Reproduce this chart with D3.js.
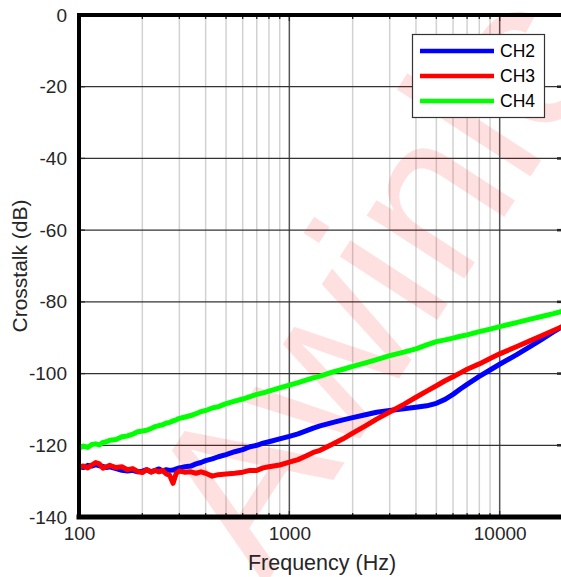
<!DOCTYPE html>
<html>
<head>
<meta charset="utf-8">
<style>
  body { margin: 0; background: #fff; }
  svg { display: block; font-family: "Liberation Sans", Arial, sans-serif; }
</style>
</head>
<body>
<svg width="561" height="577"></svg>
<script src="https://unpkg.com/d3@7/dist/d3.min.js"></script>
<script>
// data
const freqs = [100,105,110,115,120,125,130,135,140,150,160,170,180,190,200,210,220,230,240,250,
  260,270,280,290,300,320,340,360,380,400,430,460,500,550,600,650,700,750,800,900,
  1000,1100,1200,1300,1400,1600,1800,2000,2300,2600,3000,3500,4000,4500,5000,5500,6000,6500,7000,8000,
  9000,10000,12000,14000,16000,18000,20000];

const ch2 = [-126.0,-126.2,-125.6,-125.8,-125.4,-125.7,-125.9,-126.2,-126.0,-126.5,-127.0,-127.2,-127.0,-127.4,-127.2,-126.8,-127.4,-127.0,-126.6,-127.2,
  -126.8,-127.0,-126.9,-126.6,-126.3,-126.0,-125.8,-125.2,-124.8,-124.3,-123.8,-123.2,-122.6,-121.8,-121.2,-120.4,-120.0,-119.4,-119.0,-118.2,
  -117.5,-116.8,-116.0,-115.2,-114.6,-113.7,-112.9,-112.3,-111.5,-110.8,-110.3,-109.8,-109.4,-109.0,-108.3,-107.2,-105.8,-104.3,-103.0,-100.8,
  -99.0,-97.4,-94.8,-92.4,-90.3,-88.4,-86.8];

const ch3 = [-126.0,-125.8,-126.3,-125.5,-124.8,-125.2,-126.4,-126.0,-125.6,-126.2,-126.0,-126.8,-126.5,-127.3,-127.6,-126.8,-127.5,-127.0,-127.4,-127.0,
  -128.0,-128.4,-130.6,-127.8,-127.2,-127.5,-127.4,-127.8,-127.4,-127.8,-128.6,-128.2,-128.0,-127.8,-127.5,-127.0,-127.0,-126.3,-126.0,-125.5,
  -124.7,-124.0,-123.0,-122.0,-121.4,-119.7,-118.2,-116.6,-114.6,-112.7,-110.7,-108.6,-106.6,-104.9,-103.4,-102.0,-100.9,-99.8,-98.8,-97.3,
  -95.8,-94.5,-92.5,-90.8,-89.3,-88.0,-86.8];

const ch4 = [-120.8,-120.2,-120.6,-119.8,-119.6,-119.9,-119.2,-119.0,-118.6,-118.4,-117.6,-117.4,-116.9,-116.2,-116.0,-115.8,-115.3,-114.8,-114.5,-114.3,
  -113.8,-113.6,-113.2,-112.9,-112.5,-112.1,-111.7,-111.2,-110.6,-110.3,-109.6,-109.2,-108.4,-107.7,-107.1,-106.4,-105.8,-105.4,-104.9,-104.0,
  -103.2,-102.5,-101.8,-101.2,-100.7,-99.6,-98.8,-98.0,-97.0,-96.1,-95.0,-94.0,-93.1,-92.0,-91.1,-90.6,-90.1,-89.6,-89.2,-88.3,
  -87.6,-86.9,-85.8,-84.8,-84.0,-83.3,-82.6];

const seriesNames = ['CH2', 'CH3', 'CH4'];
const seriesColors = ['#0000ff', '#ff0000', '#00ff00'];
const yTicks = [0, -20, -40, -60, -80, -100, -120, -140];
const xTicks = [100, 1000, 10000];
const minorTicks = [200,300,400,500,600,700,800,900,2000,3000,4000,5000,6000,7000,8000,9000];

const svg = d3.select('svg');
const plotLeft = 79, plotRight = 563, plotTop = 15, plotBottom = 517;

const x = d3.scaleLog().domain([100, 20000]).range([plotLeft, plotRight]);
const y = d3.scaleLinear().domain([-140, 0]).range([plotBottom, plotTop]);

// grid
const grid = svg.append('g');
grid.selectAll('.minor').data(minorTicks).enter().append('line')
  .attr('x1', d => x(d)).attr('x2', d => x(d))
  .attr('y1', plotTop).attr('y2', plotBottom)
  .attr('stroke', '#d2d2d2').attr('stroke-width', 1.5);
grid.selectAll('.major').data(xTicks.slice(1)).enter().append('line')
  .attr('x1', d => x(d)).attr('x2', d => x(d))
  .attr('y1', plotTop).attr('y2', plotBottom)
  .attr('stroke', '#555').attr('stroke-width', 1.5);
grid.selectAll('.hgrid').data(yTicks.slice(1, -1)).enter().append('line')
  .attr('x1', plotLeft).attr('x2', plotRight)
  .attr('y1', d => y(d)).attr('y2', d => y(d))
  .attr('stroke', '#333').attr('stroke-width', 1.3);

// tick marks
const ticks = svg.append('g').attr('stroke', '#262626').attr('stroke-width', 1.3);
minorTicks.concat(xTicks).forEach(f => {
  const len = xTicks.includes(f) ? 6 : 4;
  ticks.append('line').attr('x1', x(f)).attr('x2', x(f)).attr('y1', plotTop).attr('y2', plotTop + len);
  ticks.append('line').attr('x1', x(f)).attr('x2', x(f)).attr('y1', plotBottom).attr('y2', plotBottom - len);
});
yTicks.forEach(v => {
  ticks.append('line').attr('x1', plotLeft).attr('x2', plotLeft + 6).attr('y1', y(v)).attr('y2', y(v));
  ticks.append('line').attr('x1', plotRight - 6).attr('x2', plotRight).attr('y1', y(v)).attr('y2', y(v)).attr('stroke-width', 2.5);
});

// watermark
svg.append('text')
  .attr('transform', 'translate(378,282) rotate(-57)')
  .attr('text-anchor', 'middle')
  .attr('dy', '0.32em')
  .style('font-size', '220px')
  .attr('fill', 'rgba(255,0,0,0.12)')
  .text('Awinic');

// lines
svg.append('clipPath').attr('id', 'clip').append('rect')
  .attr('x', plotLeft).attr('y', plotTop).attr('width', plotRight - plotLeft).attr('height', plotBottom - plotTop);

const line = d3.line().x(d => x(d[0])).y(d => y(d[1]));
const series = [ch2, ch3, ch4];
svg.append('g').attr('clip-path', 'url(#clip)')
  .selectAll('path').data(series).enter().append('path')
  .attr('d', s => line(freqs.map((f, i) => [f, s[i]])))
  .attr('fill', 'none')
  .attr('stroke', (d, i) => seriesColors[i])
  .attr('stroke-width', 5)
  .attr('stroke-linejoin', 'round');

// box
const box = svg.append('g').attr('stroke', '#000').attr('stroke-linecap', 'square');
box.append('line').attr('x1', plotLeft).attr('x2', plotRight).attr('y1', plotTop).attr('y2', plotTop).attr('stroke-width', 4);
box.append('line').attr('x1', plotLeft).attr('x2', plotRight).attr('y1', plotBottom).attr('y2', plotBottom).attr('stroke-width', 5);
box.append('line').attr('x1', plotLeft).attr('x2', plotLeft).attr('y1', plotTop).attr('y2', plotBottom).attr('stroke-width', 4);

// axes labels
const yAxis = svg.append('g').attr('transform', `translate(${plotLeft},0)`)
  .call(d3.axisLeft(y).tickValues(yTicks).tickSize(0).tickPadding(12).tickFormat(d => String(d)));
const xAxis = svg.append('g').attr('transform', `translate(0,${plotBottom})`)
  .call(d3.axisBottom(x).tickValues(xTicks).tickSize(0).tickPadding(10).tickFormat(d => String(d)));
[yAxis, xAxis].forEach(a => {
  a.select('.domain').remove();
  a.selectAll('text').style('font-size', '19px').attr('fill', '#262626')
    .style('font-family', '"Liberation Sans", Arial, sans-serif');
});

svg.append('text')
  .attr('x', 322).attr('y', 570)
  .attr('text-anchor', 'middle')
  .style('font-size', '21.5px').attr('fill', '#262626')
  .text('Frequency (Hz)');

svg.append('text')
  .attr('transform', 'translate(27,266) rotate(-90)')
  .attr('text-anchor', 'middle')
  .style('font-size', '21px').attr('fill', '#262626')
  .text('Crosstalk (dB)');

// legend
const legend = svg.append('g');
legend.append('rect')
  .attr('x', 412.5).attr('y', 34.5).attr('width', 132).attr('height', 83)
  .attr('fill', '#fff').attr('stroke', '#333').attr('stroke-width', 1.2);
seriesNames.forEach((name, i) => {
  const ly = 51 + i * 25;
  legend.append('line').attr('x1', 420).attr('x2', 494).attr('y1', ly).attr('y2', ly)
    .attr('stroke', seriesColors[i]).attr('stroke-width', 4.5);
  legend.append('text').attr('x', 500).attr('y', ly).attr('dy', '0.36em')
    .style('font-size', '17.5px').attr('fill', '#000').text(name);
});
</script>
</body>
</html>
